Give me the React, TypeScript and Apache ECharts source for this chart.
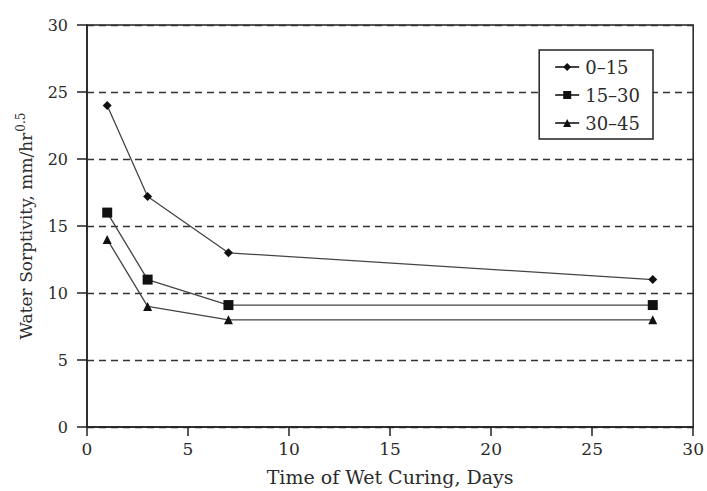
import React, { useEffect, useRef } from "react";
import * as echarts from "echarts";

const days = [1, 3, 7, 28];
const depth0to15 = [24, 17.2, 13, 11];
const depth15to30 = [16, 11, 9.1, 9.1];
const depth30to45 = [14, 9, 8, 8];
const seriesNames = ["0\u201315", "15\u201330", "30\u201345"];

const FONT = "DejaVu Serif";
const INK = "#222";
const TEXT = "#2b2b2b";

export default function App() {
  const ref = useRef<HTMLDivElement>(null);

  useEffect(() => {
    document.body.style.margin = "0";
    document.documentElement.style.overflow = "hidden";
    if (!ref.current) return;
    const chart = echarts.init(ref.current, null, { renderer: "svg" });
    const pair = (ys: number[]) => days.map((d, i) => [d, ys[i]]);
    const lineSeries = (name: string, ys: number[], symbol: string, size: number) => ({
      name,
      type: "line",
      data: pair(ys),
      symbol,
      symbolSize: size,
      lineStyle: { color: "#444", width: 1.3 },
      itemStyle: { color: "#111" },
    });
    chart.setOption({
      animation: false,
      backgroundColor: "#fff",
      textStyle: { fontFamily: FONT },
      grid: {
        left: 87,
        right: 12,
        top: 25,
        bottom: 61,
        show: true,
        borderColor: INK,
        borderWidth: 1.5,
        backgroundColor: "transparent",
      },
      legend: {
        orient: "vertical",
        right: 54,
        top: 50,
        data: seriesNames,
        borderColor: INK,
        borderWidth: 1.5,
        backgroundColor: "#fff",
        padding: [8, 13, 7, 15],
        itemGap: 10,
        itemWidth: 24,
        itemHeight: 10,
        textStyle: { fontFamily: FONT, fontSize: 18, color: TEXT, padding: [0, 0, 0, 1] },
      },
      xAxis: {
        type: "value",
        min: 0,
        max: 30,
        interval: 5,
        name: "Time of Wet Curing, Days",
        nameLocation: "middle",
        nameGap: 40,
        nameTextStyle: { fontFamily: FONT, fontSize: 19, color: TEXT },
        axisLine: { show: true, lineStyle: { color: INK, width: 1.5 } },
        axisTick: { show: true, length: 9, lineStyle: { color: INK, width: 1.5 } },
        axisLabel: { fontFamily: FONT, fontSize: 17, color: TEXT, margin: 13 },
        splitLine: { show: false },
      },
      yAxis: {
        type: "value",
        min: 0,
        max: 30,
        interval: 5,
        name: "Water Sorptivity, mm/hr{sup|0.5}",
        nameLocation: "middle",
        nameGap: 51,
        nameTextStyle: {
          fontFamily: FONT,
          fontSize: 17,
          color: TEXT,
          rich: {
            sup: { fontFamily: FONT, fontSize: 12, color: TEXT, verticalAlign: "top", padding: [0, 0, 9, 1] },
          },
        },
        axisLine: { show: true, lineStyle: { color: INK, width: 1.5 } },
        axisTick: { show: true, length: 10, lineStyle: { color: INK, width: 1.5 } },
        axisLabel: { fontFamily: FONT, fontSize: 16, color: TEXT, margin: 19 },
        splitLine: {
          show: true,
          lineStyle: { color: "#333", width: 1.4, type: [7, 5] },
        },
      },
      series: [
        lineSeries(seriesNames[0], depth0to15, "diamond", 9),
        lineSeries(seriesNames[1], depth15to30, "rect", 10),
        lineSeries(seriesNames[2], depth30to45, "triangle", 9),
      ],
    });
    return () => chart.dispose();
  }, []);

  return <div ref={ref} style={{ width: 707, height: 491 }} />;
}
